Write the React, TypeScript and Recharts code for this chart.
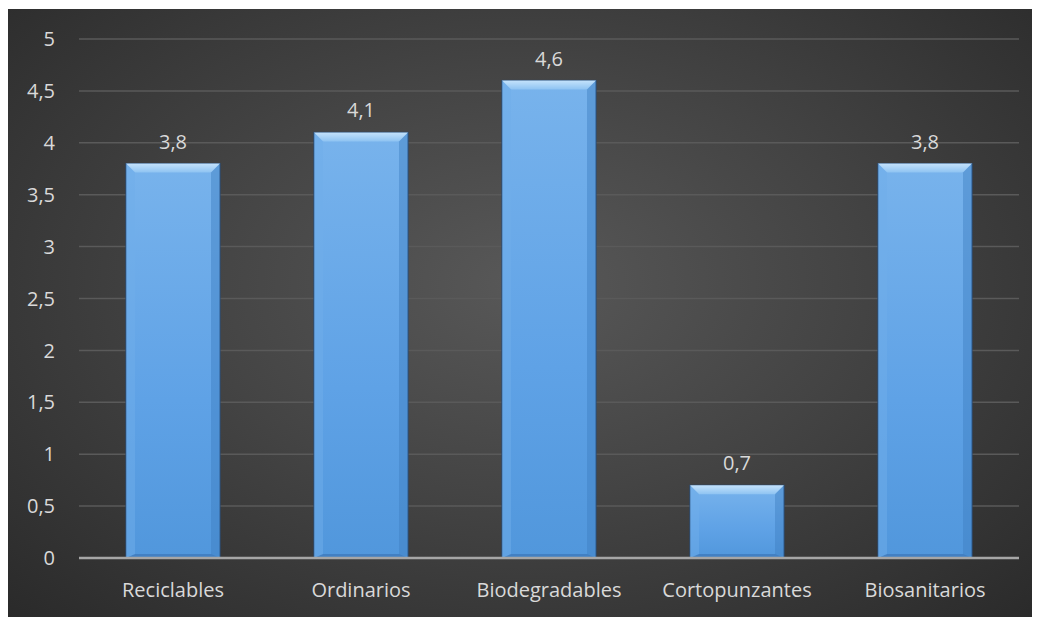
import { BarChart, Bar, XAxis, YAxis, CartesianGrid, LabelList } from "recharts";

const categories = ["Reciclables", "Ordinarios", "Biodegradables", "Cortopunzantes", "Biosanitarios"];
const values = [3.8, 4.1, 4.6, 0.7, 3.8];
const yTicks = [0, 0.5, 1, 1.5, 2, 2.5, 3, 3.5, 4, 4.5, 5];

const data = categories.map((name, i) => ({ name, value: values[i] }));

const FONT = "'Open Sans', 'Liberation Sans', sans-serif";
const fmt = (v: number) => String(v).replace(".", ",");

// Bevelled bar, like the Office "soft edge" look
const BevelBar = (props: any) => {
    const { x, y, width, height } = props;
    if (!height || height <= 0) return null;
    const b = Math.min(9, height / 2);
    return (
        <g>
            <rect x={x} y={y} width={width} height={height} fill="url(#barFill)" stroke="#2c4f78" strokeWidth={1.2} />
            {/* top bevel */}
            <polygon points={`${x},${y} ${x + width},${y} ${x + width - b},${y + b} ${x + b},${y + b}`} fill="url(#bevelTop)" />
            {/* left bevel */}
            <polygon points={`${x},${y} ${x + b},${y + b} ${x + b},${y + height - 3} ${x},${y + height}`} fill="#6fade9" opacity={0.5} />
            {/* right bevel */}
            <polygon points={`${x + width},${y} ${x + width - b},${y + b} ${x + width - b},${y + height - 3} ${x + width},${y + height}`} fill="#3f7fc2" opacity={0.45} />
            {/* bottom */}
            <polygon points={`${x},${y + height} ${x + b},${y + height - 4} ${x + width - b},${y + height - 4} ${x + width},${y + height}`} fill="#3e7bbd" opacity={0.8} />
        </g>
    );
};

export default function App() {
    return (
        <div
            style={{
                width: 1032,
                height: 609,
                marginTop: 1,
                background: "radial-gradient(ellipse at 50% 45%, #585858 0%, #444444 45%, #2a2a2a 100%)",
            }}
        >
            <BarChart
                width={1032}
                height={609}
                data={data}
                margin={{ top: 30, right: 21, left: 0, bottom: 0 }}
                barCategoryGap="25%"
            >
                <defs>
                    <linearGradient id="barFill" x1="0" y1="0" x2="0" y2="1">
                        <stop offset="0%" stopColor="#78b3ec" />
                        <stop offset="60%" stopColor="#5fa2e6" />
                        <stop offset="100%" stopColor="#5197dc" />
                    </linearGradient>
                    <linearGradient id="bevelTop" x1="0" y1="0" x2="0" y2="1">
                        <stop offset="0%" stopColor="#c4e2fb" />
                        <stop offset="100%" stopColor="#8ec3f2" />
                    </linearGradient>
                </defs>
                <CartesianGrid vertical={false} stroke="#5a5a5a" strokeWidth={1.5} />
                <XAxis
                    dataKey="name"
                    height={60}
                    axisLine={{ stroke: "#a6a6a6", strokeWidth: 2.5 }}
                    tickLine={false}
                    tickSize={0}
                    tickMargin={25}
                    tick={{ fill: "#d9d9d9", fontSize: 20, fontFamily: FONT }}
                />
                <YAxis
                    width={71}
                    domain={[0, 5]}
                    ticks={yTicks}
                    interval={0}
                    axisLine={false}
                    tickLine={false}
                    tickSize={0}
                    tickMargin={24}
                    tickFormatter={fmt}
                    tick={{ fill: "#d9d9d9", fontSize: 20, fontFamily: FONT }}
                />
                <Bar dataKey="value" shape={<BevelBar />} isAnimationActive={false}>
                    <LabelList
                        dataKey="value"
                        position="top"
                        offset={15}
                        formatter={(v: any) => fmt(v)}
                        style={{ fill: "#d9d9d9", fontSize: 20, fontFamily: FONT }}
                    />
                </Bar>
            </BarChart>
        </div>
    );
}
